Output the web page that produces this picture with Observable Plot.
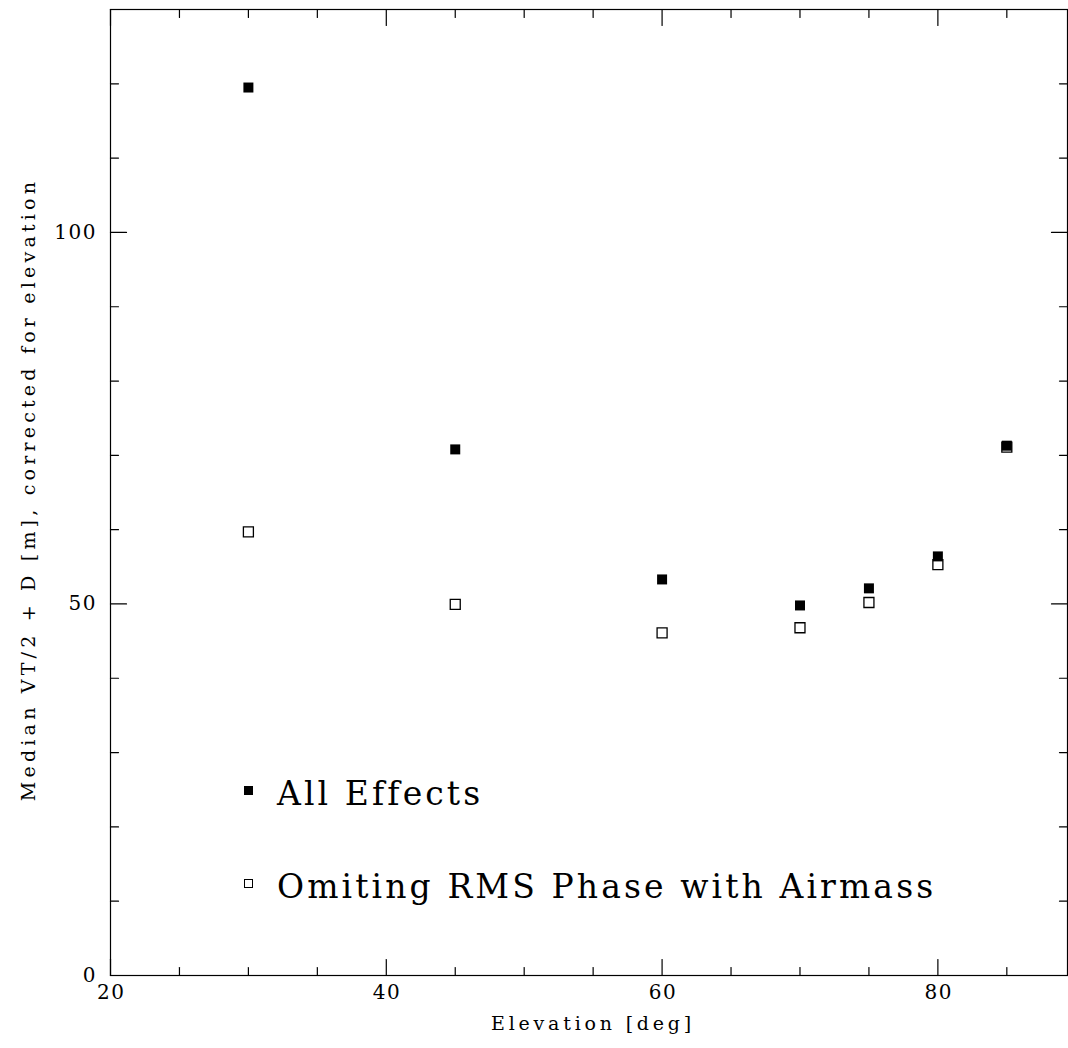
<!DOCTYPE html>
<html>
<head>
<meta charset="utf-8">
<script src="https://cdn.jsdelivr.net/npm/d3@7"></script>
<script src="https://cdn.jsdelivr.net/npm/@observablehq/plot@0.6"></script>
<style>
  html, body { margin: 0; padding: 0; background: #fff; }
  #wrap { position: relative; width: 1068px; height: 1048px; font-family: "DejaVu Serif", serif; }
  .lg-text { position: absolute; left: 277px; font-size: 33px; line-height: 33px; letter-spacing: 3.1px; color: #000; white-space: nowrap; }
  .lg-sw { position: absolute; left: 244px; width: 9px; height: 9px; box-sizing: border-box; }
</style>
</head>
<body>
<div id="wrap"></div>
<script>
// Data
const elevation = [30, 45, 60, 70, 75, 80, 85];
const allEffects = [119.5, 70.8, 53.3, 49.8, 52.1, 56.4, 71.3];
const omitRms = [59.7, 49.95, 46.1, 46.8, 50.2, 55.3, 71.1];
const seriesNames = ["All Effects", "Omiting RMS Phase with Airmass"];
const xMajorTicks = [20, 40, 60, 80];
const xMinorTicks = [25, 30, 35, 45, 50, 55, 65, 70, 75, 85];
const yMajorTicks = [0, 50, 100];
const yMinorTicks = [10, 20, 30, 40, 60, 70, 80, 90, 110, 120];
const xLabel = "Elevation [deg]";
const yLabel = "Median VT/2 + D [m], corrected for elevation";

const filled = elevation.map((e, i) => ({elev: e, value: allEffects[i]}));
const open = elevation.map((e, i) => ({elev: e, value: omitRms[i]}));

const lineShape = {draw(context, l) { context.moveTo(0, 0); context.lineTo(0, -l); }};
const square = {draw(context, size) { const s = Math.sqrt(size) / 2; context.rect(-s, -s, 2 * s, 2 * s); }};

function ticks(data, axis, anchor, len) {
  const rot = {bottom: 0, top: 180, left: 90, right: -90}[anchor];
  const opts = {frameAnchor: anchor, length: len, rotate: rot, anchor: "start", shape: lineShape, stroke: "#000", strokeWidth: 1.2};
  if (axis === "x") opts.x = d => d; else opts.y = d => d;
  return Plot.vector(data, opts);
}

const chart = Plot.plot({
  width: 1068,
  height: 1048,
  marginLeft: 110,
  marginRight: 1,
  marginTop: 9,
  marginBottom: 73,
  style: {fontFamily: "DejaVu Serif, serif", background: "#fff", color: "#000"},
  x: {domain: [20, 89.4], axis: null},
  y: {domain: [0, 130], axis: null},
  marks: [
    Plot.frame({stroke: "#000", strokeWidth: 1.2}),
    ticks(xMajorTicks, "x", "bottom", 16),
    ticks(xMinorTicks, "x", "bottom", 8),
    ticks(xMajorTicks, "x", "top", 16),
    ticks(xMinorTicks, "x", "top", 8),
    ticks(yMajorTicks, "y", "left", 16),
    ticks(yMinorTicks, "y", "left", 8),
    ticks(yMajorTicks, "y", "right", 16),
    ticks(yMinorTicks, "y", "right", 8),
    Plot.text(xMajorTicks, {x: d => d, frameAnchor: "bottom", dy: 23, dx: 0.8, text: d => String(d), fontSize: 20, fill: "#000"}),
    Plot.text(yMajorTicks, {y: d => d, frameAnchor: "left", dx: -13.5, textAnchor: "end", text: d => String(d), fontSize: 20, fill: "#000"}),
    Plot.text([xLabel], {frameAnchor: "bottom", textAnchor: "middle", dy: 54, dx: 4, text: d => d, fontSize: 19, fill: "#000"}),
    Plot.text([yLabel], {frameAnchor: "left", textAnchor: "middle", dx: -82, dy: -3, rotate: -90, text: d => d, fontSize: 19.01, fill: "#000"}),
    Plot.dot(open, {x: "elev", y: "value", symbol: square, r: 10 / Math.sqrt(Math.PI), fill: "#fff", stroke: "#000", strokeWidth: 1.3}),
    Plot.dot(filled, {x: "elev", y: "value", symbol: square, r: 10 / Math.sqrt(Math.PI), fill: "#000", stroke: "none"})
  ]
});

// Wide, spaced lettering like the original plot font
chart.querySelectorAll("g[font-size]").forEach(g => {
  const fs = +g.getAttribute("font-size");
  const ls = fs === 20 ? 1.5 : fs === 19 ? 3.8 : fs === 19.01 ? 4.2 : 0;
  if (ls) g.setAttribute("letter-spacing", ls);
});

const wrap = document.getElementById("wrap");
wrap.appendChild(chart);

const legendBaselines = [805, 898];
seriesNames.forEach((name, i) => {
  const sw = document.createElement("div");
  sw.className = "lg-sw";
  sw.style.top = (legendBaselines[i] - 19) + "px";
  if (i === 0) sw.style.background = "#000";
  else { sw.style.background = "#fff"; sw.style.border = "1px solid #000"; }
  const t = document.createElement("div");
  t.className = "lg-text";
  t.style.top = (legendBaselines[i] - 28) + "px";
  t.textContent = name;
  wrap.appendChild(sw);
  wrap.appendChild(t);
});
</script>
</body>
</html>
